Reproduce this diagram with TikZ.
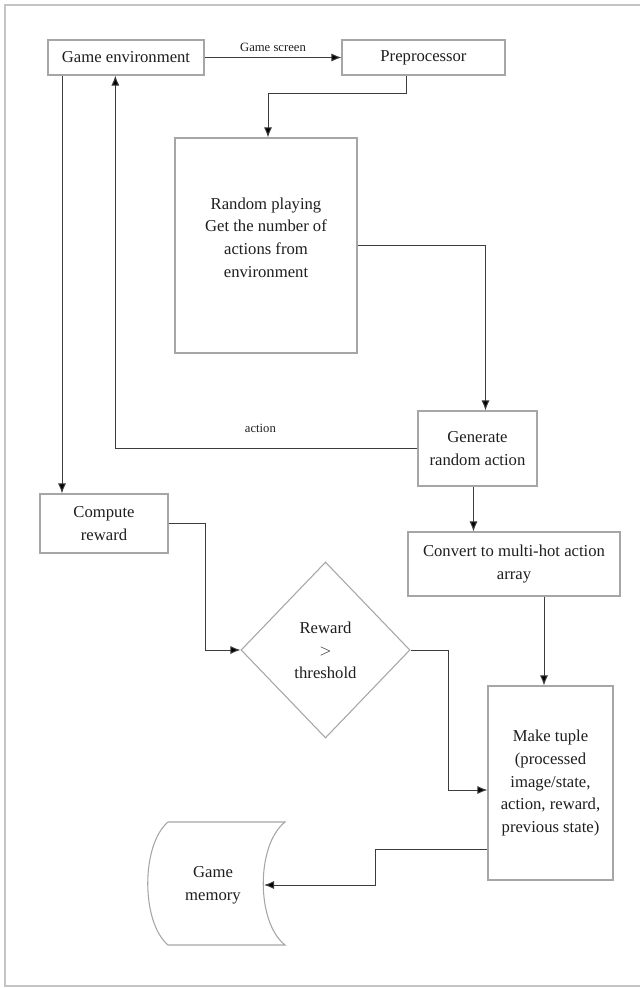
\documentclass[tikz,border=0pt]{standalone}
\usepackage{fontspec}
\setmainfont{Liberation Serif}
\usetikzlibrary{arrows.meta,shapes.geometric}
\definecolor{boxgray}{HTML}{A6A6A6}
\definecolor{linegray}{HTML}{3C3C3C}
\definecolor{txtdark}{HTML}{1E1E1E}
\definecolor{framegray}{HTML}{C4C4C4}
\begin{document}
\begin{tikzpicture}[x=0.75pt,y=-0.75pt,
  every node/.style={text=txtdark,font=\fontsize{12.5}{17}\selectfont},
  box/.style={draw=boxgray,line width=0.8pt,align=center,inner sep=2pt},
  arr/.style={draw=linegray,line width=0.75pt,-{Latex[length=7.5pt,width=6pt,fill=black]}},
  lbl/.style={font=\fontsize{9.5}{11}\selectfont}]
  \useasboundingbox (0,0) rectangle (640,988);
  \draw[framegray,line width=1.4pt] (640,5) -- (5,5) -- (5,986) -- (640,986);
  \node[box,minimum width=117pt,minimum height=26.25pt] (env) at (126,57.5) {Game environment};
  \node[box,minimum width=122.25pt,minimum height=26.25pt] (pre) at (423.5,57.5) {Preprocessor};
  \node[box,minimum width=136.5pt,minimum height=161.25pt] (rnd) at (266,245.5) {Random playing\\Get the number of\\actions from\\environment\\[-5pt]};
  \node[box,minimum width=89.25pt,minimum height=56.25pt] (gen) at (477.5,448.5) {Generate\\random action};
  \node[box,minimum width=96pt,minimum height=44.25pt] (rew) at (104,523.5) {Compute\\reward};
  \node[box,shape=diamond,minimum width=126.75pt,minimum height=132pt,inner sep=0pt] (dia) at (325.5,650) {Reward\\$>$\\threshold};
  \node[box,minimum width=159pt,minimum height=48pt] (conv) at (514,564) {Convert to multi-hot action\\array};
  \node[box,minimum width=93.75pt,minimum height=145.5pt] (tup) at (550.5,783) {Make tuple\\(processed\\image/state,\\action, reward,\\previous state)};
  \draw[boxgray,line width=0.8pt] (168,822) -- (285,822) .. controls (256,845) and (256,922) .. (285,945)
    -- (168,945) .. controls (141,922) and (141,845) .. (168,822);
  \node[align=center] (mem) at (213,885) {Game\\memory};
  \coordinate (memin) at (264,885);
  \draw[arr] (env) -- node[lbl,above=1pt] (scr) {Game screen} (pre);
  \draw[arr] ([xshift=-13pt]pre.south) -- ++(0,18) -| ([xshift=1.5pt]rnd.north);
  \draw[arr] (rnd.east) -| ([xshift=6pt]gen.north);
  \draw[arr] (gen.west) -| node[lbl,pos=0.26,above=8pt] (act) {action} ([xshift=-8pt]env.south);
  \draw[arr] ([xshift=-48pt]env.south) -- ([xshift=-48pt]env.south |- rew.north);
  \draw[arr] (rew.east) -- ++(37,0) |- (dia.west);
  \draw[arr] ([xshift=-3pt]gen.south) -- ([xshift=-3pt]gen.south |- conv.north);
  \draw[arr] ([xshift=22.5pt]conv.south) -- ([xshift=22.5pt]conv.south |- tup.north);
  \draw[arr] (dia.east) -- ++(38,0) |- ([yshift=-5.25pt]tup.west);
  \draw[arr] ([yshift=-49.5pt]tup.west) -- ++(-112,0) |- (memin);
\end{tikzpicture}
\end{document}
